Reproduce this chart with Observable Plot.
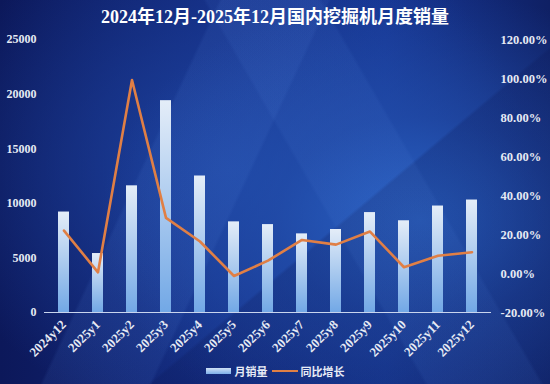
<!DOCTYPE html>
<html>
<head>
<meta charset="utf-8">
<script src="https://cdn.jsdelivr.net/npm/d3@7"></script>
<script src="https://cdn.jsdelivr.net/npm/@observablehq/plot@0.6"></script>
<style>
  html, body { margin: 0; padding: 0; }
  #wrap {
    position: relative; width: 550px; height: 384px; overflow: hidden;
    background:
      linear-gradient(115deg, rgba(255,255,255,0) 0%, rgba(255,255,255,0) 30%, rgba(90,140,230,0.10) 30.5%, rgba(90,140,230,0.10) 45%, rgba(255,255,255,0) 45.5%),
      linear-gradient(60deg, rgba(255,255,255,0) 0%, rgba(255,255,255,0) 55%, rgba(80,130,220,0.10) 55.5%, rgba(80,130,220,0.10) 70%, rgba(255,255,255,0) 70.5%),
      linear-gradient(140deg, rgba(0,0,0,0) 0%, rgba(0,0,0,0) 60%, rgba(10,20,80,0.22) 60.5%, rgba(10,20,80,0.22) 100%),
      radial-gradient(ellipse 320px 230px at 420px 220px, #2a62c4 0%, rgba(36,82,176,0.6) 45%, rgba(20,45,130,0) 100%),
      radial-gradient(ellipse 300px 260px at 230px 170px, #1d43a0 0%, rgba(22,50,140,0) 100%),
      linear-gradient(90deg, #0c185a 0%, #132a80 45%, #163592 70%, #0f2064 100%);
  }
  #title {
    position: absolute; left: 0; top: 6px; width: 550px; text-align: center;
    font-family: "Liberation Serif", "Noto Sans CJK SC", serif; font-weight: bold;
    font-size: 18px; line-height: 22px; color: #ffffff;
  }
  .layer { position: absolute; left: 0; top: 0; }
  #legend {
    position: absolute; left: 0; top: 364px; width: 550px; display: flex;
    justify-content: center; align-items: center;
    font-family: "Noto Sans CJK SC", sans-serif; font-weight: bold; font-size: 11px;
    color: #e8ecf6; line-height: 14px;
  }
  #legend .sw { width: 25px; height: 6px; background: linear-gradient(#cfe0f5, #7eb0ea); margin-right: 4px; }
  #legend .ln { width: 26px; height: 2.5px; background: #e07f45; margin: 0 3px 0 4px; }
</style>
</head>
<body>
<div id="wrap">
  <div id="title">2024年12月-2025年12月国内挖掘机月度销量</div>
  <div id="legend"><span class="sw"></span><span>月销量</span><span class="ln"></span><span>同比增长</span></div>
</div>
<script>
const months = ["2024y12","2025y1","2025y2","2025y3","2025y4","2025y5","2025y6","2025y7","2025y8","2025y9","2025y10","2025y11","2025y12"];
const sales = [9200, 5400, 11600, 19400, 12500, 8300, 8050, 7200, 7600, 9150, 8400, 9750, 10300];
const yoy = [22.0, 0.6, 99.2, 28.5, 16.4, -1.3, 6.6, 17.2, 14.8, 21.5, 3.2, 9.1, 10.9];
const leftTicks = [0, 5000, 10000, 15000, 20000, 25000];
const rightTicks = [-20, 0, 20, 40, 60, 80, 100, 120];

const barData = months.map((m, i) => ({month: m, sales: sales[i]}));
const lineData = months.map((m, i) => ({month: m, yoy: yoy[i]}));

const W = 550, H = 384;
const margins = {marginTop: 39, marginBottom: 72, marginLeft: 44, marginRight: 59};
const textColor = "#e6eaf4";
const baseStyle = {background: "transparent", color: textColor, fontFamily: "Liberation Serif, serif", fontSize: "12px", fontWeight: "bold", overflow: "visible"};
const xScale = {type: "band", domain: months, paddingInner: 0.68, paddingOuter: 0.34, align: 0.5};

const p1 = Plot.plot({
  width: W, height: H, ...margins,
  style: baseStyle,
  x: {...xScale, axis: null},
  y: {domain: [0, 25000], axis: null},
  marks: [
    Plot.barY(barData, {x: "month", y: "sales", fill: "url(#barGrad)"}),
    Plot.ruleY([0], {stroke: "#c9d5ee", strokeWidth: 1.2}),
    Plot.axisY(leftTicks, {anchor: "left", tickSize: 0, tickPadding: 8, label: null, tickFormat: d => String(d), fontSize: 12}),
    Plot.axisX({anchor: "bottom", tickSize: 0, tickPadding: 10, tickRotate: -45, label: null, fontSize: 13})
  ]
});
p1.classList.add("layer");
d3.select(p1).insert("defs", ":first-child").html(
  '<linearGradient id="barGrad" x1="0" y1="0" x2="0" y2="1">' +
  '<stop offset="0%" stop-color="#e4edf8"/><stop offset="100%" stop-color="#72a8e6"/></linearGradient>'
);

const p2 = Plot.plot({
  width: W, height: H, ...margins,
  style: baseStyle,
  x: {...xScale, axis: null},
  y: {domain: [-20, 120], axis: null},
  marks: [
    Plot.line(lineData, {x: "month", y: "yoy", stroke: "#e07f45", strokeWidth: 2.6, strokeLinejoin: "round"}),
    Plot.axisY(rightTicks, {anchor: "right", tickSize: 0, tickPadding: 9, label: null, tickFormat: d => d.toFixed(2) + "%", fontSize: 12.5})
  ]
});
p2.classList.add("layer");

const wrap = document.getElementById("wrap");
wrap.appendChild(p1);
wrap.appendChild(p2);
</script>
</body>
</html>
